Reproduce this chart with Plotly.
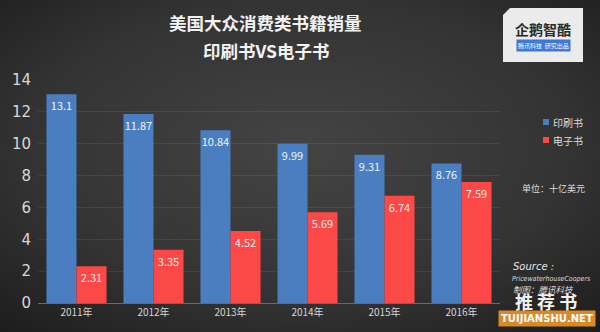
import plotly.graph_objects as go

years = ["2011年", "2012年", "2013年", "2014年", "2015年", "2016年"]
print_sales = [13.1, 11.87, 10.84, 9.99, 9.31, 8.76]
ebook_sales = [2.31, 3.35, 4.52, 5.69, 6.74, 7.59]
print_labels = ["13.1", "11.87", "10.84", "9.99", "9.31", "8.76"]
ebook_labels = ["2.31", "3.35", "4.52", "5.69", "6.74", "7.59"]

W, H = 600, 332
L, R, T, B = 38, 100, 80, 29
FONT = "Noto Sans CJK SC"
BLUE = "#4a7ec0"
RED = "#fd4848"


def px(x):
    return (x - L) / (W - L - R)


def py(y):
    return (H - B - y) / (H - T - B)


bg_svg = (
    "data:image/svg+xml;utf8,"
    "<svg xmlns='http://www.w3.org/2000/svg' width='600' height='332'>"
    "<defs><radialGradient id='g' cx='0.5' cy='0.45' r='0.75'>"
    "<stop offset='0' stop-color='%23444444'/>"
    "<stop offset='0.6' stop-color='%23333333'/>"
    "<stop offset='1' stop-color='%231c1c1c'/>"
    "</radialGradient></defs>"
    "<rect width='600' height='332' fill='url(%23g)'/></svg>"
)

fig = go.Figure()
fig.add_trace(go.Bar(
    x=years, y=print_sales, name="印刷书", marker_color=BLUE, marker_line_width=0,
    text=print_labels, textposition="inside", insidetextanchor="end", textangle=0,
    textfont=dict(color="#eef3fb", size=11, family=FONT), constraintext="none",
))
fig.add_trace(go.Bar(
    x=years, y=ebook_sales, name="电子书", marker_color=RED, marker_line_width=0,
    text=ebook_labels, textposition="inside", insidetextanchor="end", textangle=0,
    textfont=dict(color="#fbeaea", size=11, family=FONT), constraintext="none",
))


def note(x, y, text, size, color, family=FONT, xanchor="center", **kw):
    return dict(x=px(x), y=py(y), xref="paper", yref="paper", text=text,
                showarrow=False, xanchor=xanchor, yanchor="middle",
                font=dict(size=size, color=color, family=family), **kw)


annotations = [
    note(265, 23, "<b>美国大众消费类书籍销量</b>", 17.5, "#f2f2f2"),
    note(266, 50, "<b>印刷书VS电子书</b>", 17.5, "#f2f2f2"),
    note(551, 122, "印刷书", 10, "#dddddd", xanchor="left"),
    note(551, 140, "电子书", 10, "#dddddd", xanchor="left"),
    note(553, 188, "单位：十亿美元", 9, "#dddddd"),
    note(511, 266, "<i>Source :</i>", 10, "#e6e6e6", family="DejaVu Sans", xanchor="left"),
    note(510, 279, "<i>PricewaterhouseCoopers</i>", 7, "#dcdcdc",
         family="DejaVu Sans Condensed", xanchor="left"),
    note(511, 289, "<i>制图：腾讯科技</i>", 8.5, "#dcdcdc", xanchor="left"),
    note(546, 301, "<b>推 荐 书</b>", 18, "#f0f0f0"),
    note(547, 318, "<b>TUIJIANSHU.NET</b>", 10, "#ffffff", family="DejaVu Sans",
         bgcolor="#d98a27", borderpad=2),
    note(543, 29, "<b>企鹅智酷</b>", 14, "#2a2a2a"),
    note(543, 45, "腾讯科技  研究出品", 6, "#ffffff", bgcolor="#3b78d8", borderpad=1),
]

shapes = [
    # legend swatches
    dict(type="rect", xref="paper", yref="paper", x0=px(543), x1=px(549),
         y0=py(119), y1=py(125), fillcolor=BLUE, line_width=0),
    dict(type="rect", xref="paper", yref="paper", x0=px(543), x1=px(549),
         y0=py(137), y1=py(143), fillcolor=RED, line_width=0),
    # logo card
    dict(type="path", xref="paper", yref="paper",
         path=(f"M {px(510)},{py(8)} L {px(583)},{py(8)} L {px(583)},{py(62)} "
               f"L {px(503)},{py(62)} L {px(503)},{py(15)} Z"),
         fillcolor="#ebebeb", line_width=0),
]

fig.update_layout(
    width=W, height=H,
    margin=dict(l=L, r=R, t=T, b=B),
    paper_bgcolor="#2e2e2e", plot_bgcolor="rgba(0,0,0,0)",
    barmode="group", bargap=0.22, bargroupgap=0,
    showlegend=False,
    font=dict(family=FONT, color="#dddddd"),
    images=[dict(source=bg_svg, xref="paper", yref="paper", x=px(0), y=py(0),
                 sizex=px(600) - px(0), sizey=py(0) - py(332), sizing="stretch",
                 layer="below", xanchor="left", yanchor="top")],
    annotations=annotations,
    shapes=shapes,
)
fig.update_xaxes(
    showgrid=False, showline=True, linecolor="#6a6a6a", linewidth=1,
    tickfont=dict(size=10, color="#d6d6d6", family=FONT), ticks="",
)
fig.update_yaxes(
    range=[0, 14], dtick=2, showgrid=True, gridcolor="rgba(255,255,255,0.07)",
    zeroline=False, tickfont=dict(size=15, color="#d8d8d8", family="DejaVu Sans"),
    ticks="", ticklabelstandoff=6,
)

fig.write_html("out.html")
